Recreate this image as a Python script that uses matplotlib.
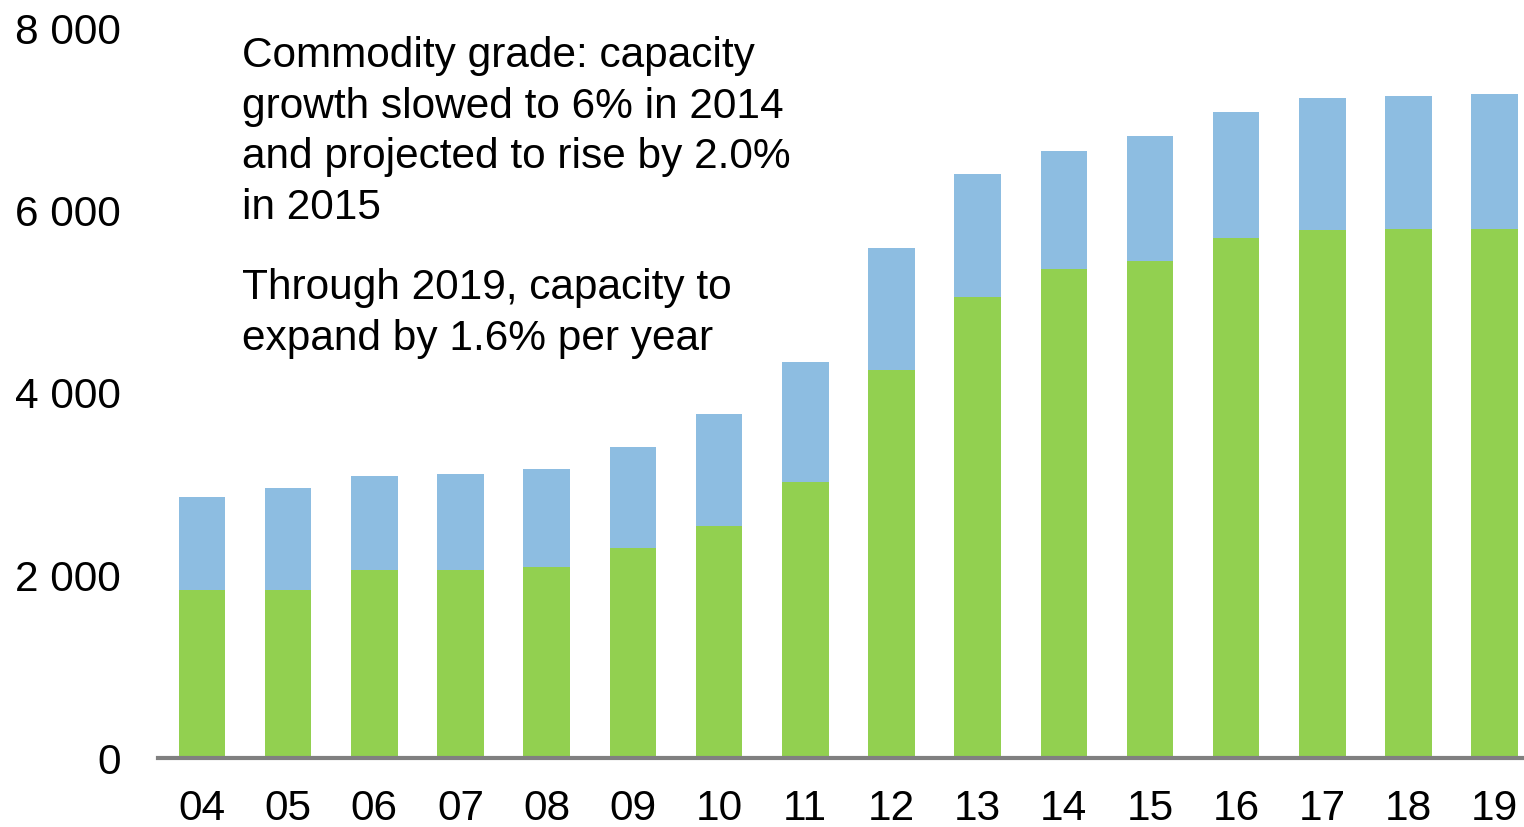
import matplotlib
matplotlib.use("Agg")
import matplotlib.pyplot as plt
import numpy as np

# years (two-digit labels) and capacity split
years = ["04", "05", "06", "07", "08", "09", "10", "11",
         "12", "13", "14", "15", "16", "17", "18", "19"]
commodity = [1840, 1840, 2060, 2060, 2090, 2300, 2540, 3025,
             4250, 5050, 5360, 5450, 5700, 5790, 5800, 5800]
totals = [2860, 2960, 3090, 3115, 3165, 3410, 3770, 4340,
          5590, 6400, 6650, 6815, 7080, 7235, 7255, 7275]
other = [t - c for t, c in zip(totals, commodity)]

yticks = [0, 2000, 4000, 6000, 8000]
ytick_labels = ["0", "2 000", "4 000", "6 000", "8 000"]

note1 = ("Commodity grade: capacity\ngrowth slowed to 6% in 2014\n"
         "and projected to rise by 2.0%\nin 2015")
note2 = "Through 2019, capacity to\nexpand by 1.6% per year"

plt.rcParams['font.family'] = ['Liberation Sans', 'DejaVu Sans']

fig = plt.figure(figsize=(15.24, 8.27), dpi=100)
ax = fig.add_axes([158 / 1524, 1 - 758 / 827, 1 - 158 / 1524, (758 - 28) / 827])

x = np.arange(len(years))
w = 0.54
ax.bar(x, commodity, width=w, color="#92D050", linewidth=0)
ax.bar(x, other, width=w, bottom=commodity, color="#8DBDE1", linewidth=0)

ax.set_xlim(-0.51, 15.34)
ax.set_ylim(0, 8000)
ax.set_xticks(x)
ax.set_xticklabels(years)
ax.set_yticks(yticks)
ax.set_yticklabels(ytick_labels)
ax.tick_params(axis="both", length=0, labelsize=30.5)
ax.tick_params(axis="y", pad=27)
ax.tick_params(axis="x", pad=22)

for s in ["top", "right", "left"]:
    ax.spines[s].set_visible(False)
ax.spines["bottom"].set_color("#808080")
ax.spines["bottom"].set_linewidth(3)

# baseline alignment goes to the last line of each note
fig.text(242 / 1524, 1 - 219 / 827, note1,
         fontsize=30.5, va="baseline", ha="left", linespacing=1.34)
fig.text(242 / 1524, 1 - 350 / 827, note2,
         fontsize=30.5, va="baseline", ha="left", linespacing=1.34)

fig.savefig("out.png", dpi=100)
